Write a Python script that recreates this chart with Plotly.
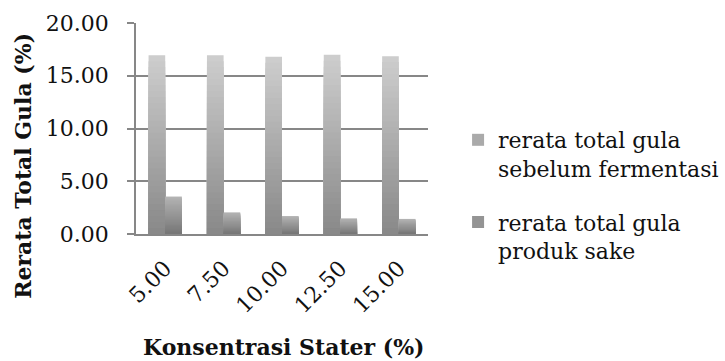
import plotly.graph_objects as go

# Starter concentration categories (%)
konsentrasi = ["5.00", "7.50", "10.00", "12.50", "15.00"]

# Mean total sugar (%) before fermentation and in the finished sake
gula_sebelum = [16.95, 16.95, 16.80, 16.98, 16.86]
gula_produk = [3.55, 2.05, 1.70, 1.48, 1.43]

nama_seri = [
    "rerata total gula<br>sebelum fermentasi",
    "rerata total gula<br>produk sake",
]
y_ticks = [0, 5, 10, 15, 20]

FONT = "DejaVu Serif"
TEXT = "#111111"
GRID = "#878787"
LAYERS = 30  # stacked overlay layers used to fake a vertical gradient

# (bottom colour, top colour) of each series' gradient
gradients = [((136, 136, 136), (206, 206, 206)), ((118, 118, 118), (180, 180, 180))]
offsets = [-0.285, 0.0]


def mix(c0, c1, t):
    r, g, b = (round(a + (b_ - a) * t) for a, b_ in zip(c0, c1))
    return f"rgb({r},{g},{b})"


fig = go.Figure()
for values, name, offset, (dark, light) in zip(
    [gula_sebelum, gula_produk], nama_seri, offsets, gradients
):
    for k in range(LAYERS):
        frac = (LAYERS - k) / LAYERS
        fig.add_bar(
            x=konsentrasi,
            y=[v * frac for v in values],
            base=0,
            width=0.285,
            offset=offset,
            marker=dict(color=mix(dark, light, frac - 0.5 / LAYERS), line_width=0),
            name=name,
            legendgroup=name,
            showlegend=(k == LAYERS // 2),
            hoverinfo="skip",
        )

fig.update_layout(
    width=725,
    height=361,
    margin=dict(l=136, r=297, t=23, b=127, autoexpand=False),
    paper_bgcolor="white",
    plot_bgcolor="white",
    barmode="overlay",
    font=dict(family=FONT, size=22, color=TEXT),
    xaxis=dict(
        type="category",
        showline=True,
        linecolor=GRID,
        linewidth=1.6,
        ticks="",
        tickangle=-45,
        showgrid=False,
        tickfont=dict(family=FONT, size=22, color=TEXT),
        ticklabelstandoff=11,
    ),
    yaxis=dict(
        range=[0, 20],
        tickvals=y_ticks,
        tickformat=".2f",
        showgrid=True,
        gridcolor=GRID,
        gridwidth=1.6,
        showline=True,
        linecolor=GRID,
        linewidth=1.6,
        ticks="outside",
        ticklen=7,
        tickwidth=1.6,
        tickcolor=GRID,
        zeroline=False,
        tickfont=dict(family=FONT, size=22, color=TEXT),
        ticklabelstandoff=14,
    ),
    legend=dict(
        x=1.103,
        xanchor="left",
        y=0.545,
        yanchor="top",
        traceorder="grouped",
        tracegroupgap=22,
        valign="top",
        font=dict(family=FONT, size=22, color=TEXT),
        bgcolor="rgba(0,0,0,0)",
    ),
    annotations=[
        dict(
            text="<b>Rerata Total Gula (%)</b>",
            textangle=-90,
            xref="paper",
            yref="paper",
            x=-0.387,
            y=0.323,
            xanchor="center",
            yanchor="middle",
            showarrow=False,
            font=dict(family=FONT, size=22, color=TEXT),
        ),
        dict(
            text="<b>Konsentrasi Stater (%)</b>",
            xref="paper",
            yref="paper",
            x=0.507,
            y=-0.536,
            xanchor="center",
            yanchor="middle",
            showarrow=False,
            font=dict(family=FONT, size=22, color=TEXT),
        ),
    ],
)

fig.write_html("out.html")
